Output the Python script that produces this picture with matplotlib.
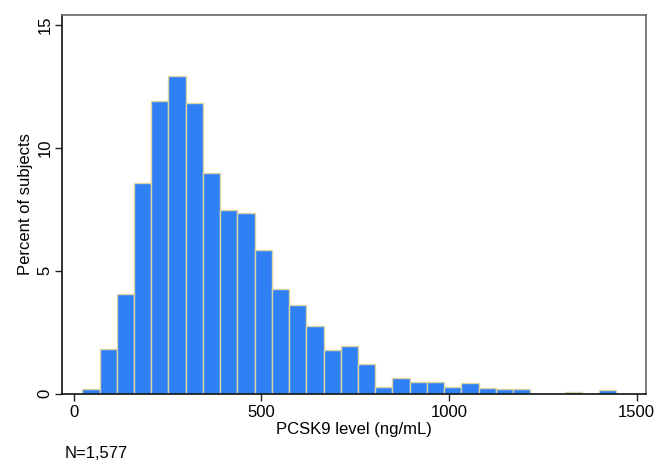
import numpy as np
import matplotlib
matplotlib.use('Agg')
from matplotlib import pyplot as plt

plt.rcParams['font.family'] = ['Liberation Sans', 'DejaVu Sans']

# histogram: 31 bins from ~23 to ~1446 ng/mL
bin_start = 23.3
bin_width = 45.9
pct = [0.2, 1.83, 4.04, 8.54, 11.88, 12.9, 11.81, 8.97, 7.47, 7.32,
       5.83, 4.23, 3.6, 2.74, 1.76, 1.92, 1.2, 0.27, 0.62, 0.47,
       0.45, 0.27, 0.43, 0.24, 0.17, 0.17, 0.0, 0.0, 0.063, 0.0, 0.127]
xticks = [0, 500, 1000, 1500]
yticks = [0, 5, 10, 15]

edges = bin_start + bin_width * np.arange(len(pct) + 1)

fig = plt.figure(figsize=(6.61, 4.71), dpi=100)
ax = fig.add_axes([0.0943, 0.1645, 0.883, 0.8043])

ax.bar(edges[:-1], pct, width=bin_width, align='edge',
       color='#2F80F5', edgecolor='#DCD4A4', linewidth=1.0)

ax.set_xlim(-30, 1525)
ax.set_ylim(0, 15.4)
ax.set_xticks(xticks)
ax.set_yticks(yticks)
ax.set_yticklabels([str(v) for v in yticks], rotation=90, va='center')
ax.tick_params(axis='both', labelsize=12, length=5, width=1, color='#222222')
ax.tick_params(axis='y', pad=2)
ax.tick_params(axis='x', pad=3)

for s in ['left', 'bottom']:
    ax.spines[s].set_color('#111111')
    ax.spines[s].set_linewidth(1.2)
for s in ['top', 'right']:
    ax.spines[s].set_color('#666666')
    ax.spines[s].set_linewidth(1.2)

ax.set_xlabel('PCSK9 level (ng/mL)', fontsize=12, labelpad=2)
ax.set_ylabel('Percent of subjects', fontsize=12, labelpad=3)
fig.text(0.098, 0.038, 'N=1,577', fontsize=12, ha='left', va='center')

fig.savefig('out.png', dpi=100)
